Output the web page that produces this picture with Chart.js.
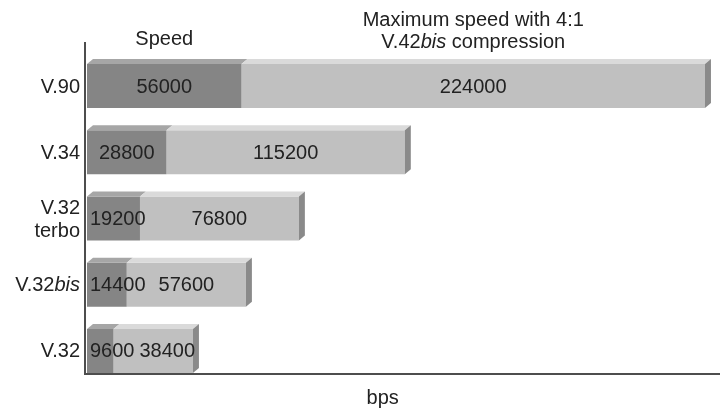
<!DOCTYPE html>
<html>
<head>
<meta charset="utf-8">
<script src="https://cdn.jsdelivr.net/npm/chart.js@4/dist/chart.umd.min.js"></script>
<style>
  html, body { margin: 0; padding: 0; background: #ffffff; }
  canvas { display: block; }
</style>
</head>
<body>
<canvas id="chart" width="720" height="411"></canvas>
<script>
// Modem standards, their line speed and the throughput reachable with 4:1 compression
const categories = ['V.90', 'V.34', ['V.32', 'terbo'], 'V.32bis', 'V.32'];
const speedBps = [56000, 28800, 19200, 14400, 9600];
const compressedBps = [224000, 115200, 76800, 57600, 38400];
const speedTitle = 'Speed';
const compressedTitle = ['Maximum speed with 4:1', 'V.42bis compression'];
const axisTitle = 'bps';

const FONT = '"Liberation Sans", Arial, Helvetica, sans-serif';
const TEXT = '#222222';
const DEPTH_X = 6, DEPTH_Y = 5;

// "bis" is set in italics wherever it appears
function richParts(text) {
  const out = [];
  const re = /bis/g;
  let last = 0, m;
  while ((m = re.exec(text))) {
    if (m.index > last) out.push({ t: text.slice(last, m.index), i: false });
    out.push({ t: 'bis', i: true });
    last = m.index + 3;
  }
  if (last < text.length) out.push({ t: text.slice(last), i: false });
  return out;
}
function richWidth(ctx, text, size) {
  let w = 0;
  richParts(text).forEach(p => {
    ctx.font = (p.i ? 'italic ' : '') + size + 'px ' + FONT;
    w += ctx.measureText(p.t).width;
  });
  return w;
}
function drawRich(ctx, text, x, y, align, size) {
  const w = richWidth(ctx, text, size);
  let cx = align === 'right' ? x - w : align === 'center' ? x - w / 2 : x;
  ctx.textAlign = 'left';
  richParts(text).forEach(p => {
    ctx.font = (p.i ? 'italic ' : '') + size + 'px ' + FONT;
    ctx.fillText(p.t, cx, y);
    cx += ctx.measureText(p.t).width;
  });
}

// Extruded bar faces, axis lines, value labels and the surrounding text
const bar3d = {
  id: 'bar3d',
  afterDatasetsDraw(chart) {
    const ctx = chart.ctx;
    const area = chart.chartArea;
    const n = chart.data.datasets.length;
    const rows = [];
    ctx.save();
    chart.data.datasets.forEach((ds, di) => {
      chart.getDatasetMeta(di).data.forEach((el, idx) => {
        const p = el.getProps(['x', 'base', 'y', 'height'], true);
        const top = p.y - p.height / 2, bot = p.y + p.height / 2;
        const l = Math.min(p.x, p.base), r = Math.max(p.x, p.base);
        ctx.fillStyle = ds.topColor;
        ctx.beginPath();
        ctx.moveTo(l, top);
        ctx.lineTo(r, top);
        ctx.lineTo(r + DEPTH_X, top - DEPTH_Y);
        ctx.lineTo(l + DEPTH_X, top - DEPTH_Y);
        ctx.closePath();
        ctx.fill();
        if (di === n - 1) {
          ctx.fillStyle = ds.sideColor;
          ctx.beginPath();
          ctx.moveTo(r, top);
          ctx.lineTo(r + DEPTH_X, top - DEPTH_Y);
          ctx.lineTo(r + DEPTH_X, bot - DEPTH_Y);
          ctx.lineTo(r, bot);
          ctx.closePath();
          ctx.fill();
        }
        rows[idx] = rows[idx] || [];
        rows[idx][di] = { l, r, y: p.y, top, bot };
      });
    });

    // axis lines
    const first = rows[0][0], last = rows[rows.length - 1][0];
    ctx.strokeStyle = '#4d4d4d';
    ctx.lineWidth = 2;
    ctx.beginPath();
    ctx.moveTo(area.left - 2, first.top - 22);
    ctx.lineTo(area.left - 2, last.bot + 1);
    ctx.lineTo(chart.width, last.bot + 1);
    ctx.stroke();

    // value labels, kept clear of each other inside narrow bars
    ctx.fillStyle = TEXT;
    ctx.textBaseline = 'middle';
    ctx.font = '20px ' + FONT;
    rows.forEach((segs, idx) => {
      let prevRight = segs[0].l;
      segs.forEach((s, di) => {
        const txt = String(di === 0 ? speedBps[idx] : compressedBps[idx]);
        const w = ctx.measureText(txt).width;
        let left = (s.l + s.r) / 2 - w / 2;
        left = Math.max(left, prevRight + (di === 0 ? 3 : 5));
        ctx.textAlign = 'left';
        ctx.fillText(txt, left, s.y + 1);
        prevRight = left + w;
      });
    });

    // category labels
    const yScale = chart.scales.y;
    categories.forEach((cat, idx) => {
      const cy = yScale.getPixelForValue(idx) + 1;
      const lines = Array.isArray(cat) ? cat : [cat];
      const lh = 23;
      lines.forEach((line, k) => {
        const ly = cy + (k - (lines.length - 1) / 2) * lh;
        drawRich(ctx, line, area.left - 7, ly, 'right', 20);
      });
    });

    // column headings over the top bar
    const head = rows[0];
    ctx.textBaseline = 'alphabetic';
    drawRich(ctx, speedTitle, (head[0].l + head[0].r) / 2, head[0].top - 19, 'center', 20);
    const hx = (head[1].l + head[1].r) / 2;
    drawRich(ctx, compressedTitle[0], hx, head[1].top - 38, 'center', 20);
    drawRich(ctx, compressedTitle[1], hx, head[1].top - 16, 'center', 20);

    // unit under the horizontal axis
    drawRich(ctx, axisTitle, area.left + (area.right - area.left) * 0.47, last.bot + 31, 'center', 20);
    ctx.restore();
  }
};

new Chart(document.getElementById('chart'), {
  type: 'bar',
  data: {
    labels: categories,
    datasets: [
      {
        label: speedTitle,
        data: speedBps,
        backgroundColor: '#858585',
        topColor: '#a6a6a6',
        sideColor: '#8a8a8a',
        borderWidth: 0
      },
      {
        label: compressedTitle.join(' '),
        data: compressedBps.map((v, i) => v - speedBps[i]),
        backgroundColor: '#c0c0c0',
        topColor: '#dadada',
        sideColor: '#8a8a8a',
        borderWidth: 0
      }
    ]
  },
  options: {
    indexAxis: 'y',
    responsive: false,
    animation: false,
    devicePixelRatio: 1,
    layout: { padding: { left: 87, right: 4, top: 53, bottom: 27 } },
    datasets: { bar: { categoryPercentage: 1, barPercentage: 0.665 } },
    plugins: { legend: { display: false }, tooltip: { enabled: false } },
    scales: {
      x: {
        stacked: true,
        min: 0,
        max: 228000,
        display: false
      },
      y: {
        stacked: true,
        display: false
      }
    }
  },
  plugins: [bar3d]
});
</script>
</body>
</html>
